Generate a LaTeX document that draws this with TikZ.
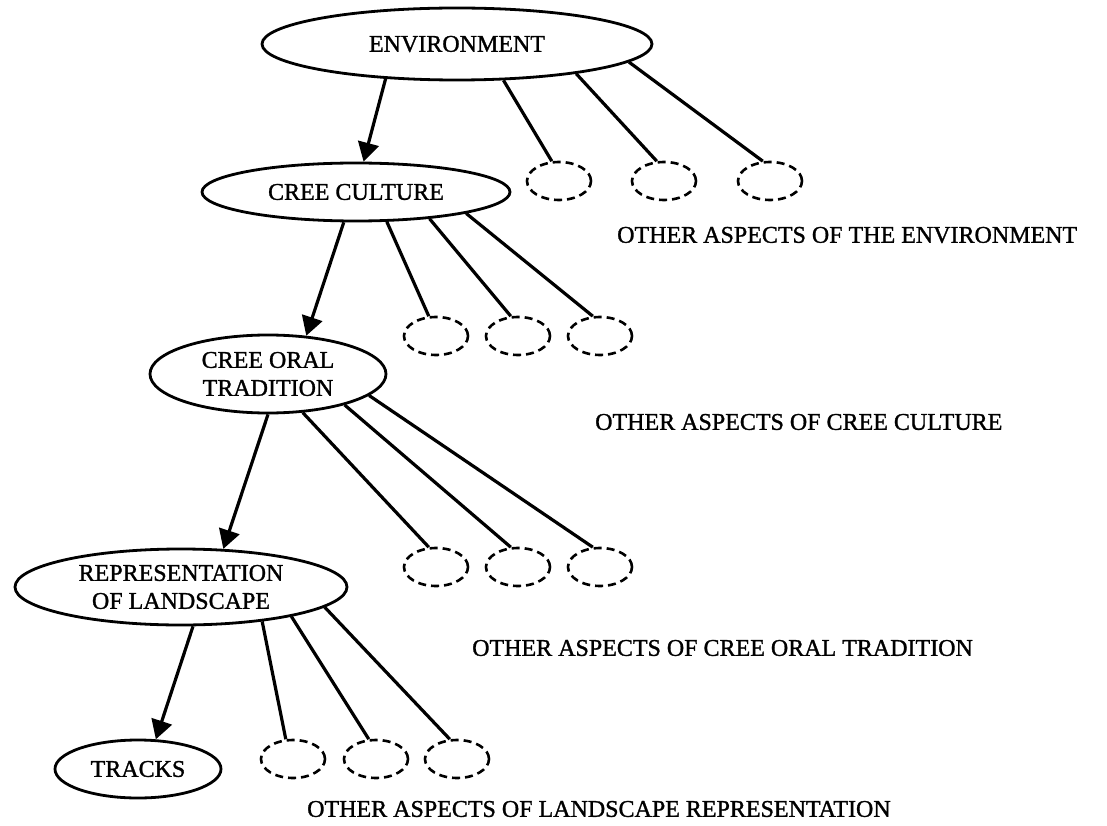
\documentclass[tikz,border=0pt]{standalone}
\usepackage{fontspec}
\setmainfont[FakeBold=1.2]{Liberation Serif}
\usetikzlibrary{shapes.geometric,arrows.meta}
\begin{document}
\begin{tikzpicture}[x=1pt,y=-1pt,
  concept/.style={ellipse,draw,line width=2.8pt,inner sep=0pt,align=center,font=\fontsize{24}{28}\selectfont},
  other/.style={ellipse,draw,dash pattern=on 8pt off 5pt,line width=2.6pt,minimum width=64pt,minimum height=38pt,inner sep=0pt},
  lbl/.style={anchor=west,inner sep=0pt,font=\fontsize{24}{28}\selectfont},
  link/.style={line width=3.2pt},
  arr/.style={line width=3.2pt,-{Triangle[length=19pt,width=21pt]}}]
\useasboundingbox (0,0) rectangle (1107,826);

\node[concept,minimum width=390pt,minimum height=72pt] (env) at (457,44) {ENVIRONMENT};
\node[concept,minimum width=308pt,minimum height=58pt] (cc) at (356,192) {CREE CULTURE};
\node[concept,minimum width=236pt,minimum height=78pt] (oral) at (268,374) {CREE ORAL\\TRADITION};
\node[concept,minimum width=332pt,minimum height=76pt] (rep) at (181,587) {REPRESENTATION\\OF LANDSCAPE};
\node[concept,minimum width=166pt,minimum height=58pt] (tracks) at (138,769) {TRACKS};

\node[other] (e1) at (559,181) {};
\node[other] (e2) at (664,181) {};
\node[other] (e3) at (770,181) {};
\node[other] (c1) at (436,336) {};
\node[other] (c2) at (518,336) {};
\node[other] (c3) at (600,336) {};
\node[other] (o1) at (436,567) {};
\node[other] (o2) at (518,567) {};
\node[other] (o3) at (600,567) {};
\node[other] (r1) at (293,759) {};
\node[other] (r2) at (376,759) {};
\node[other] (r3) at (457,759) {};

\draw[arr] (env.-154) -- (cc.76);
\draw[link] (env.-38) -- (e1.110);
\draw[link] (env.-14) -- (e2.110);
\draw[link] (env.-6) -- (e3.110);

\draw[arr] (cc.-112) -- (oral.45);
\draw[link] (cc.-44) -- (c1.110);
\draw[link] (cc.-20) -- (c2.110);
\draw[link] (cc.-11) -- (c3.110);

\draw[arr] (oral.-90) -- (rep.42);
\draw[link] (oral.-48) -- (o1.110);
\draw[link] (oral.-22) -- (o2.110);
\draw[link] (oral.-12) -- (o3.110);

\draw[arr] (rep.-73) -- (tracks.59);
\draw[link] (rep.-23) -- (r1.110);
\draw[link] (rep.-15) -- (r2.110);
\draw[link] (rep.-8) -- (r3.110);

\node[lbl] (l1) at (617,235) {OTHER ASPECTS OF THE ENVIRONMENT};
\node[lbl] (l2) at (595,422) {OTHER ASPECTS OF CREE CULTURE};
\node[lbl] (l3) at (472,648) {OTHER ASPECTS OF CREE ORAL TRADITION};
\node[lbl] (l4) at (307,809) {OTHER ASPECTS OF LANDSCAPE REPRESENTATION};
\end{tikzpicture}
\end{document}
